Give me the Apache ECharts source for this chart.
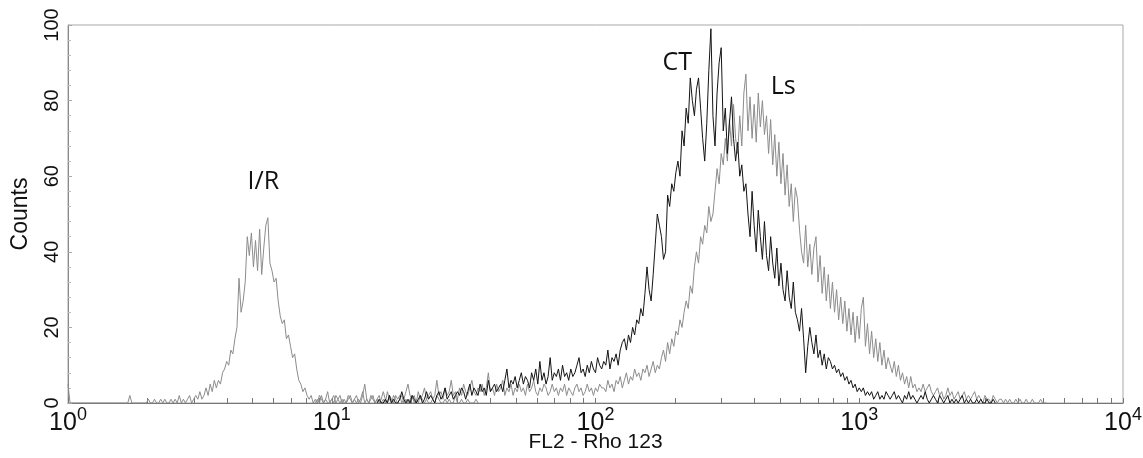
<!DOCTYPE html>
<html>
<head>
<meta charset="utf-8">
<script src="https://cdn.jsdelivr.net/npm/echarts@6/dist/echarts.min.js"></script>
<style>
  html, body { margin: 0; padding: 0; background: #fff; }
  #chart { width: 1143px; height: 458px; }
</style>
</head>
<body>
<div id="chart"></div>
<script>
// FL2 (Rho 123) histograms, 128 log channels per decade, counts per channel.
const CHANNELS_PER_DECADE = 128;

// I/R histogram, channels 0..199
const irStart = 0;
const irCounts = [
  5,
  0,0,0,0,0,0,0,0,0,0, 0,0,0,0,0,0,0,0,0,0, 0,0,0,0,0,0,0,0,0,
  2,0,0,0,0,0,0,0,0,1,
  0,0,1,0,0,1,0,1,0,0,
  1,0,1,0,2,0,1,0,1,2,
  0,1,2,1,3,1,2,4,2,5,
  3,6,4,6,5,8,9,11,10,14,
  13,17,20,33,24,27,32,44,39,45,
  36,43,35,46,34,41,47,49,37,35,
  32,33,27,23,21,22,17,18,15,12,
  13,9,6,5,3,4,2,1,2,0,
  1,0,2,1,0,1,3,0,1,2,
  0,1,2,0,1,0,2,1,0,1,
  2,0,1,3,0,1,0,2,1,0,
  1,2,0,1,0,3,1,0,2,1,
  0,1,2,0,1,0,1,2,0,1,
  0,2,1,0,1,0,0,1,0,2,
  1,0,0,1,0,1,0,0,2,0,
  0,1,0,0,1,0,0,0,1,0
];

// CT histogram, channels 150..450
const ctStart = 150;
const ctCounts = [
  0,1,0,0,1,0,2,0,1,0,0,1,3,1,0,1,0,2,1,0,
  1,2,0,1,3,1,2,1,0,2,3,1,2,4,1,2,3,1,2,3,
  2,4,3,1,3,5,2,4,3,2,5,3,4,2,6,3,4,5,3,4,
  5,3,6,9,4,6,5,7,4,6,8,5,7,6,4,8,6,9,5,11,
  6,8,5,7,12,6,8,7,9,6,10,7,8,6,9,7,8,10,12,8,
  9,7,10,8,11,9,8,12,10,9,11,10,14,9,12,11,13,10,14,16,
  17,14,18,16,20,18,22,21,25,23,29,36,30,27,34,42,50,47,44,38,
  40,55,52,58,56,61,64,60,72,68,78,74,86,80,76,83,86,78,70,64,
  74,88,99,76,68,82,90,94,72,78,66,74,81,70,64,69,60,63,56,58,
  50,44,56,47,40,51,44,38,48,39,35,44,37,33,41,31,37,30,27,35,
  28,25,32,24,22,19,25,17,8,15,20,16,13,18,12,14,10,13,9,12,
  11,9,10,8,9,7,8,6,7,5,6,4,5,3,4,3,4,2,3,2,
  3,1,2,3,1,2,1,3,2,1,2,3,1,2,1,0,2,1,3,1,
  2,1,0,1,2,1,3,1,0,1,2,1,0,2,1,0,1,2,0,1,
  0,1,0,1,2,0,1,0,1,0,0,1,0,1,0,0,1,0,0,1,0
];

// Ls histogram, channels 120..475
const lsStart = 120;
const lsCounts = [
  0,1,0,2,0,1,0,0,1,0,2,1,0,1,0,0,1,2,0,1,
  0,1,0,2,5,1,0,1,2,0,1,0,1,3,1,0,2,1,0,2,
  1,2,0,1,3,5,2,1,2,0,3,1,2,4,1,2,3,1,2,6,
  2,3,1,4,2,3,6,2,3,1,4,2,5,3,2,4,6,3,2,4,
  3,5,2,4,8,3,4,2,5,3,4,6,2,4,3,5,2,4,3,5,
  3,4,2,5,3,4,6,3,2,4,3,5,4,2,3,5,3,4,2,4,
  3,5,2,4,3,2,4,5,3,4,2,3,5,3,4,2,4,3,5,4,
  4,3,6,4,5,3,6,5,7,4,6,8,5,7,6,9,7,8,6,9,
  8,10,7,9,11,8,10,9,12,14,11,16,13,17,15,19,18,22,20,24,
  27,25,31,29,36,40,37,44,42,47,45,52,48,50,56,62,58,66,63,70,
  64,75,68,79,70,66,76,68,82,87,72,81,70,79,69,82,73,80,71,76,
  66,75,63,71,60,69,58,66,55,63,52,58,48,57,54,46,40,37,47,36,
  42,34,41,44,32,39,29,36,27,34,25,32,24,30,22,28,21,27,19,25,
  18,24,16,23,17,25,28,15,21,13,19,12,17,11,16,10,14,9,12,10,
  8,11,7,10,6,8,5,7,4,7,4,5,3,4,3,5,3,4,5,3,
  2,3,4,2,3,1,2,4,2,3,1,2,3,1,2,3,1,2,1,2,
  3,1,2,1,0,2,1,1,0,2,1,0,1,1,0,1,0,1,0,0,
  1,0,1,0,0,1,0,0,1,0,0,0,1,0,0,0
];

// Axis ticks and labels
const decades = [1, 10, 100, 1000, 10000];
const yTicks = [0, 20, 40, 60, 80, 100];

// Peak annotations: [text, FL2 value, count]
const peakLabels = {
  ir: ['I/R', 5.5, 58.5],
  ct: ['CT', 204, 90],
  ls: ['Ls', 515, 83.5]
};

// minor log ticks 1..9 within each decade
const xTickValues = [];
decades.slice(0, -1).forEach(d => { for (let k = 1; k < 10; k++) xTickValues.push(d * k); });
xTickValues.push(decades[decades.length - 1]);

function toPoints(start, counts) {
  return counts.map((c, i) => [Math.pow(10, (start + i) / CHANNELS_PER_DECADE), c]);
}

const sans = '"Liberation Sans", Arial, sans-serif';
const GRAY = '#8c8c8c';
const BLACK = '#141414';

function peakMark(label) {
  return {
    symbol: 'circle',
    symbolSize: 1,
    itemStyle: { color: 'rgba(0,0,0,0)' },
    label: {
      show: true,
      position: 'inside',
      formatter: '{b}',
      fontFamily: '"Open Sans", "Noto Sans", sans-serif',
      fontSize: 25,
      color: '#111'
    },
    data: [{ name: label[0], coord: [label[1], label[2]] }]
  };
}

const chart = echarts.init(document.getElementById('chart'), null, { renderer: 'canvas' });

chart.setOption({
  animation: false,
  backgroundColor: '#fff',
  grid: {
    left: 68, right: 20, top: 25, bottom: 55,
    outerBoundsMode: 'none',
    containLabel: false,
    show: true, borderColor: '#a9a9a9', borderWidth: 1
  },
  xAxis: {
    type: 'log',
    logBase: 10,
    min: decades[0],
    max: decades[decades.length - 1],
    name: 'FL2 - Rho 123',
    nameLocation: 'middle',
    nameGap: 29,
    nameMoveOverlap: false,
    nameTextStyle: { fontFamily: sans, fontSize: 21, color: '#111' },
    axisLine: { lineStyle: { color: '#777', width: 1 } },
    axisTick: {
      inside: true, length: 5,
      customValues: xTickValues,
      lineStyle: { color: '#777' }
    },
    minorTick: { show: false },
    splitLine: { show: false },
    axisLabel: {
      customValues: decades,
      margin: 3,
      formatter: v => '{b|10}{s|' + Math.round(Math.log10(v)) + '}',
      rich: {
        b: { fontFamily: sans, fontSize: 25, color: '#111', lineHeight: 30, verticalAlign: 'bottom' },
        s: { fontFamily: sans, fontSize: 18, color: '#111', lineHeight: 30, verticalAlign: 'top', padding: [0, 0, 10, 0] }
      }
    }
  },
  yAxis: {
    type: 'value',
    min: yTicks[0],
    max: yTicks[yTicks.length - 1],
    interval: 20,
    name: 'Counts',
    nameLocation: 'middle',
    nameRotate: 90,
    nameGap: 36,
    nameMoveOverlap: false,
    nameTextStyle: { fontFamily: sans, fontSize: 23, color: '#111' },
    axisLine: { show: true, lineStyle: { color: '#888', width: 1 } },
    axisTick: { show: true, inside: true, length: 4, lineStyle: { color: '#aaa' } },
    minorTick: { show: true, splitNumber: 5, length: 3, lineStyle: { color: '#bbb' } },
    splitLine: { show: false },
    axisLabel: {
      rotate: 90,
      margin: 6,
      fontFamily: sans,
      fontSize: 20,
      color: '#111'
    }
  },
  series: [
    {
      name: 'I/R', type: 'line', data: toPoints(irStart, irCounts),
      showSymbol: false, symbol: 'none',
      lineStyle: { color: GRAY, width: 1 },
      markPoint: peakMark(peakLabels.ir)
    },
    {
      name: 'Ls', type: 'line', data: toPoints(lsStart, lsCounts),
      showSymbol: false, symbol: 'none',
      lineStyle: { color: GRAY, width: 1 },
      markPoint: peakMark(peakLabels.ls)
    },
    {
      name: 'CT', type: 'line', data: toPoints(ctStart, ctCounts),
      showSymbol: false, symbol: 'none',
      lineStyle: { color: BLACK, width: 1 },
      markPoint: peakMark(peakLabels.ct)
    }
  ]
});
</script>
</body>
</html>
